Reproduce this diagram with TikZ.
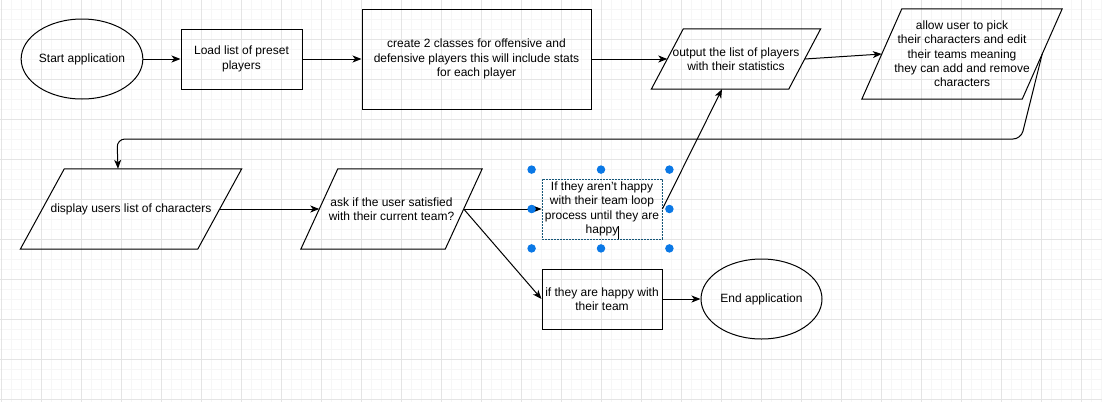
\documentclass[tikz,border=0pt]{standalone}
\usepackage{fontspec}
\setmainfont{Liberation Sans}
\usetikzlibrary{shapes.geometric,arrows.meta,calc}
\definecolor{gridmajor}{RGB}{228,228,228}
\definecolor{gridminor}{RGB}{246,246,246}
\definecolor{handleblue}{RGB}{10,120,230}
\definecolor{selline}{RGB}{20,85,120}
\newcommand\paraframe[2]{\draw[shapeline] ($(#1.north west)+(#2,0)$) -- ($(#1.north east)+(#2,0)$) -- ($(#1.south east)+(-#2,0)$) -- ($(#1.south west)+(-#2,0)$) -- cycle;}
\begin{document}
\begin{tikzpicture}[x=1pt,y=-1pt,
  shapeline/.style={draw=black,line width=1pt},
  txt/.style={font=\fontsize{12}{14.3}\selectfont, align=center, inner sep=0pt},
  procbox/.style={txt, shapeline, rectangle},
  termbox/.style={txt, shapeline, ellipse},
  parabox/.style={txt, rectangle},
  flow/.style={line width=1pt, -{Stealth[length=9pt,width=7pt,inset=2.5pt]}},
  handle/.style={circle, fill=handleblue, inner sep=0pt, minimum size=8.5pt}
]
\useasboundingbox (0,0) rectangle (1102,402);
\fill[white] (0,0) rectangle (1102,402);
% grid
\foreach \x in {1.7,11.7,...,1101.7} \draw[gridminor,line width=1pt] (\x,0) -- (\x,402);
\foreach \y in {9.3,19.3,...,399.3} \draw[gridminor,line width=1pt] (0,\y) -- (1102,\y);
\foreach \x in {1.7,41.7,...,1081.7} \draw[gridmajor,line width=1pt] (\x,0) -- (\x,402);
\foreach \y in {39.3,79.3,...,399.3} \draw[gridmajor,line width=1pt] (0,\y) -- (1102,\y);

% nodes
\node[termbox, minimum width=120pt, minimum height=80pt] (start) at (82,59) {Start application};
\node[procbox, minimum width=121pt, minimum height=60pt] (load) at (241.5,59) {Load list of preset\\players};
\node[procbox, minimum width=229pt, minimum height=100pt] (create) at (476.5,59) {create 2 classes for offensive and\\defensive players this will include stats\\for each player};
\node[parabox, minimum width=137pt, minimum height=60pt] (out) at (736,59) {output the list of players\\with their statistics};
\paraframe{out}{16}
\node[parabox, minimum width=160pt, minimum height=90pt] (allow) at (962,54) {allow user to pick\\their characters and edit\\their teams meaning\\they can add and remove\\characters};
\paraframe{allow}{20}
\node[parabox, minimum width=177pt, minimum height=80pt] (disp) at (131,209) {display users list of characters};
\paraframe{disp}{22}
\node[parabox, minimum width=144pt, minimum height=80pt] (ask) at (391.5,209) {ask if the user satisfied\\with their current team?};
\paraframe{ask}{18.5}
\node[txt, minimum width=120pt, minimum height=60pt, draw=selline, dash pattern=on 2pt off 1pt, line width=0.8pt] (ifnot) at (602,209) {If they aren't happy\\with their team loop\\process until they are\\happy};
\node[procbox, minimum width=120pt, minimum height=60pt] (happy) at (602,299) {if they are happy with\\their team};
\node[termbox, minimum width=121pt, minimum height=80pt] (end) at (761.5,299) {End application};

% helper coordinates
\coordinate (loopR) at (1021,139);
\coordinate (loopL) at (117,139);
\coordinate (dtop) at ($(disp.north)+(-13,0)$);
\coordinate (outbot) at ($(out.south)+(-14,0)$);

% connectors
\draw[flow] (start) -- (load);
\draw[flow] (load) -- (create);
\draw[flow] (create) -- (out);
\draw[flow] (out.east) -- (allow.west);
\draw[flow, rounded corners=8pt] (allow.east) -- (loopR) -- (loopL) -- (dtop);
\draw[flow] (disp.east) -- (ask.west);
\draw[flow] (ask.east) -- (ifnot.west);
\draw[flow] (ask.east) -- (happy.west);
\draw[flow] (ifnot.east) -- (outbot);
\draw[flow] (happy) -- (end);

% selection handles
\node[handle] (h1) at ($(ifnot.north west)+(-10,-9)$) {};
\node[handle] (h2) at ($(ifnot.north)+(-1,-9)$) {};
\node[handle] (h3) at ($(ifnot.north east)+(7,-9)$) {};
\node[handle] (h4) at ($(ifnot.west)+(-10,0)$) {};
\node[handle] (h5) at ($(ifnot.east)+(7,0)$) {};
\node[handle] (h6) at ($(ifnot.south west)+(-10,9)$) {};
\node[handle] (h7) at ($(ifnot.south)+(-1,9)$) {};
\node[handle] (h8) at ($(ifnot.south east)+(7,9)$) {};
% text cursor
\draw[line width=0.7pt] (618,226) -- (618,239);
\end{tikzpicture}
\end{document}
